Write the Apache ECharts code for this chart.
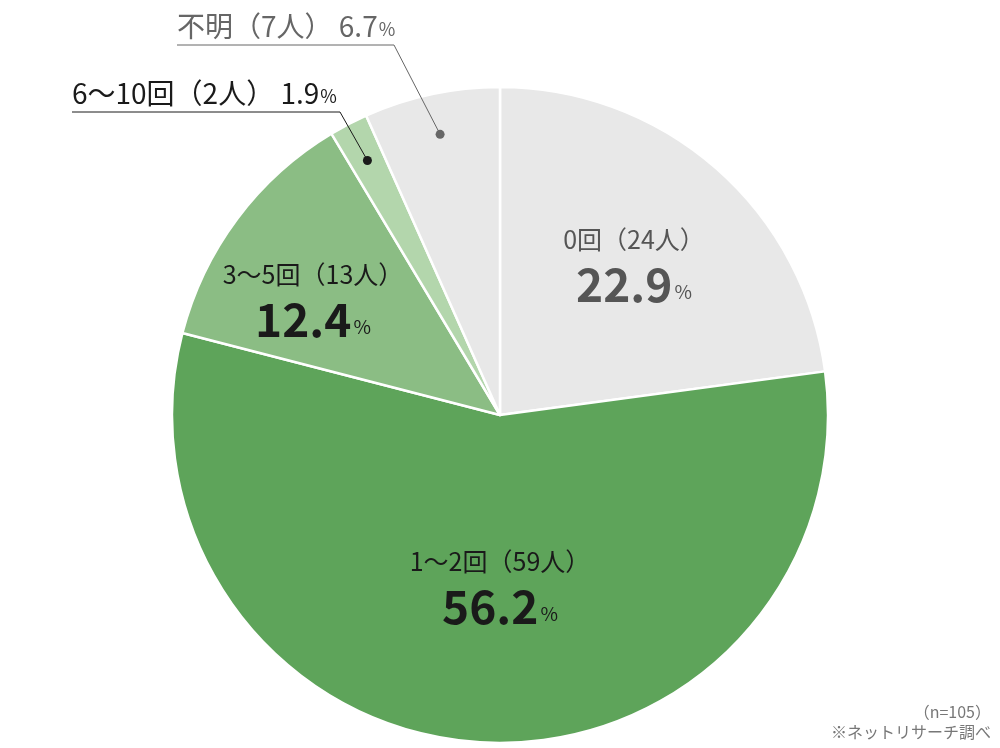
<!DOCTYPE html>
<html><head><meta charset="utf-8">
<script src="https://cdn.jsdelivr.net/npm/echarts@6/dist/echarts.min.js"></script>
<style>html,body{margin:0;padding:0;background:#fff}#c{width:1000px;height:748px}</style>
</head><body><div id="c"></div>
<script>
const categories = ['0回', '1〜2回', '3〜5回', '6〜10回', '不明'];
const counts = [24, 59, 13, 2, 7];
const percents = [22.9, 56.2, 12.4, 1.9, 6.7];
const colors = ['#e8e8e8', '#5ea45a', '#8bbd84', '#b3d6ac', '#e8e8e8'];
const outside = [false, false, false, true, true];
const noteN = '（n=105）';
const noteSrc = '※ネットリサーチ調べ';

const CX = 500, CY = 415, R = 328;
const FONT = '"Noto Sans CJK JP", "Noto Sans", sans-serif';
// label anchor layout (inside labels: center; outside: left/bottom of text + leader corner)
const labelPos = {
  0: {x: 634, y: 264},
  1: {x: 500, y: 586},
  2: {x: 313, y: 299},
  3: {x: 72, y: 107, lineY: 112, cornerX: 340},
  4: {x: 177, y: 40, lineY: 45, cornerX: 394}
};
const textColor = ['#555', '#1a1a1a', '#1a1a1a', '#1a1a1a', '#666'];

const total = percents.reduce((a, b) => a + b, 0);
function midPoint(i, frac) {
  let before = 0;
  for (let k = 0; k < i; k++) before += percents[k];
  const a = ((before + percents[i] / 2) / total) * 2 * Math.PI; // clockwise from top
  return [CX + Math.sin(a) * R * frac, CY - Math.cos(a) * R * frac];
}

const data = categories.map((c, i) => ({
  name: c,
  value: percents[i],
  itemStyle: {color: colors[i]},
  label: outside[i] ? {
    position: 'outside',
    formatter: `{o${i}|${c}（${counts[i]}人） ${percents[i]}}{p${i}|%}`,
  } : {
    position: 'inside',
    formatter: `{a${i}|${c}（${counts[i]}人）}\n{b${i}|${percents[i]}}{c${i}|%}`,
  },
  labelLine: {show: false}
}));

const rich = {};
categories.forEach((c, i) => {
  rich['a' + i] = {fontSize: 25, color: textColor[i], fontFamily: FONT, lineHeight: 42, align: 'center'};
  rich['b' + i] = {fontSize: 46, fontWeight: i === 0 ? 600 : 'bold', color: textColor[i], fontFamily: FONT, lineHeight: 50};
  rich['c' + i] = {fontSize: 19, color: textColor[i], fontFamily: FONT, padding: [14, 0, 0, 2]};
  rich['o' + i] = {fontSize: 28, color: textColor[i], fontFamily: FONT};
  rich['p' + i] = {fontSize: 18, color: textColor[i], fontFamily: FONT, padding: [6, 0, 0, 1]};
});

const leaders = [];
categories.forEach((c, i) => {
  if (outside[i]) {
    const p = midPoint(i, 0.875);
    const lp = labelPos[i];
    leaders.push({type: 'polyline', shape: {points: [[p[0], p[1]], [lp.cornerX, lp.lineY], [lp.x, lp.lineY]]},
      style: {stroke: textColor[i], lineWidth: 1, fill: null}, z: 100});
    leaders.push({type: 'circle', shape: {cx: p[0], cy: p[1], r: 4.5}, style: {fill: textColor[i]}, z: 101});
  }
});

const chart = echarts.init(document.getElementById('c'));
chart.setOption({
  backgroundColor: '#fff',
  animation: false,
  graphic: leaders.concat([
    {type: 'text', right: 9, top: 704, style: {text: noteN, fontSize: 16, fill: '#777', fontFamily: FONT, align: 'right'}},
    {type: 'text', right: 9, top: 724, style: {text: noteSrc, fontSize: 16, fill: '#777', fontFamily: FONT, align: 'right'}}
  ]),
  series: [{
    type: 'pie',
    center: [CX, CY],
    radius: [0, R],
    startAngle: 90,
    clockwise: true,
    silent: true,
    itemStyle: {borderColor: '#fff', borderWidth: 2.5},
    label: {show: true, rich: rich, fontFamily: FONT},
    labelLine: {show: false},
    labelLayout: function (params) {
      const i = params.dataIndex;
      const lp = labelPos[i];
      if (!outside[i]) {
        return {x: lp.x, y: lp.y, align: 'center', verticalAlign: 'middle'};
      }
      return {x: lp.x, y: lp.y, align: 'left', verticalAlign: 'bottom'};
    },
    data: data
  }]
});
</script></body></html>
